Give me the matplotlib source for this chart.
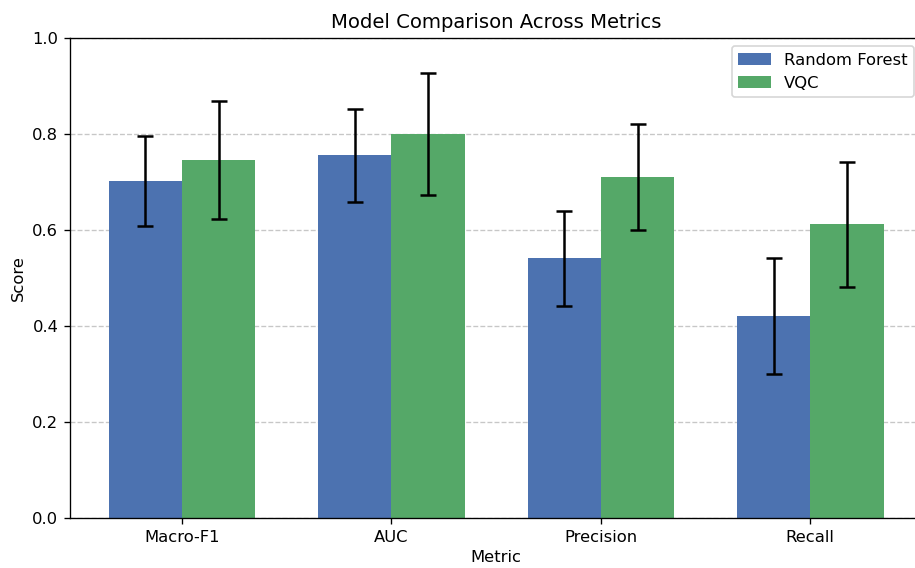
import matplotlib.pyplot as plt
import numpy as np

# Data
metrics = ["Macro-F1", "AUC", "Precision", "Recall"]
rf_scores = [0.702, 0.756, 0.541, 0.421]
rf_err = [0.093, 0.097, 0.099, 0.120]
vqc_scores = [0.745, 0.800, 0.710, 0.612]
vqc_err = [0.123, 0.128, 0.110, 0.130]

plt.rcParams["font.size"] = 9.8

fig, ax = plt.subplots(figsize=(915 / 120, 568 / 120), dpi=120)
fig.subplots_adjust(left=0.0765, right=1.008, top=0.933, bottom=0.088)

x = np.arange(len(metrics))
width = 0.35

ax.bar(x - width / 2, rf_scores, width, yerr=rf_err, capsize=5,
       color="#4C72B0", label="Random Forest", error_kw=dict(elinewidth=1.5, capthick=1.5))
ax.bar(x + width / 2, vqc_scores, width, yerr=vqc_err, capsize=5,
       color="#55A868", label="VQC", error_kw=dict(elinewidth=1.5, capthick=1.5))

ax.set_xticks(x)
ax.set_xticklabels(metrics)
ax.set_ylim(0, 1.0)
ax.set_xlabel("Metric", labelpad=3)
ax.set_ylabel("Score")
ax.set_title("Model Comparison Across Metrics")
ax.yaxis.grid(True, linestyle="--", alpha=0.7)
ax.set_axisbelow(True)
ax.legend(loc="upper right")

plt.savefig("out.png", dpi=120)
